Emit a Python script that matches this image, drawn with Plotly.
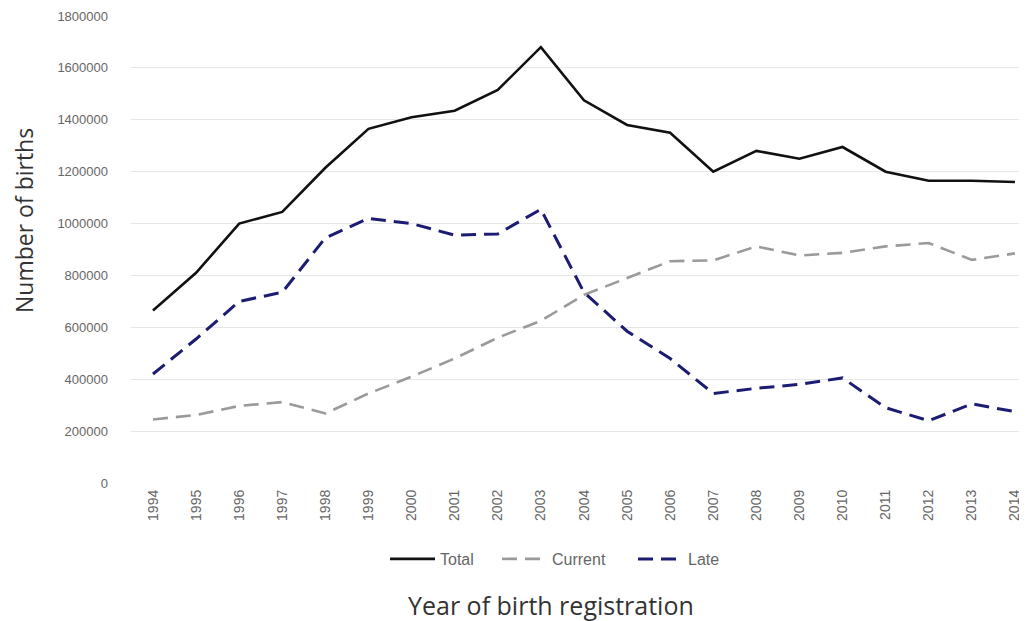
import plotly.graph_objects as go

years = list(range(1994, 2015))
total = [665000, 810000, 1000000, 1045000, 1215000, 1365000, 1410000, 1435000, 1515000, 1680000,
         1475000, 1380000, 1350000, 1200000, 1280000, 1250000, 1295000, 1200000, 1165000, 1165000, 1160000]
current = [245000, 262000, 297000, 312000, 268000, 345000, 410000, 480000, 560000, 625000,
           725000, 790000, 855000, 858000, 912000, 877000, 887000, 912000, 925000, 860000, 885000]
late = [420000, 555000, 700000, 735000, 945000, 1020000, 1000000, 955000, 960000, 1055000,
        735000, 585000, 480000, 345000, 365000, 380000, 405000, 290000, 240000, 305000, 275000]
y_ticks = [0, 200000, 400000, 600000, 800000, 1000000, 1200000, 1400000, 1600000, 1800000]

W, H = 1019, 613
L, R, T, B = 123, 0, 8, 138
PW, PH = W - L - R, H - T - B

def px(x):
    return (x - L) / PW

def py(y):
    return (H - B - y) / PH

sans = "Liberation Sans, Arial, sans-serif"
leg_font = dict(family=sans, size=16, color="#666666")

fig = go.Figure()
fig.add_trace(go.Scatter(x=years, y=total, name="Total", mode="lines", legend="legend",
                         line=dict(color="#111111", width=2.6)))
fig.add_trace(go.Scatter(x=years, y=current, name="Current", mode="lines", legend="legend2",
                         line=dict(color="#9a9a9a", width=2.6, dash="15px,8px")))
fig.add_trace(go.Scatter(x=years, y=late, name="Late", mode="lines", legend="legend3",
                         line=dict(color="#1c1c72", width=3, dash="15px,8px")))

leg_y = py(551)
def leg(xpix):
    return dict(orientation="h", x=px(xpix), xanchor="left", y=leg_y, yanchor="middle",
                font=leg_font, bgcolor="rgba(0,0,0,0)", borderwidth=0, itemwidth=45)

fig.update_layout(
    width=W, height=H,
    margin=dict(l=L, r=R, t=T, b=B),
    paper_bgcolor="white", plot_bgcolor="white",
    showlegend=True,
    legend=leg(377),
    legend2=leg(489),
    legend3=leg(625),
    xaxis=dict(range=[1993.49, 2014.28], tickmode="array", tickvals=years,
               ticktext=[str(y) for y in years], tickangle=-90,
               tickfont=dict(family=sans, size=14, color="#666666"),
               showgrid=False, zeroline=False, showline=False, ticks="",
               ticklabelstandoff=3),
    yaxis=dict(range=[0, 1800000], tickmode="array", tickvals=y_ticks,
               ticktext=[str(v) for v in y_ticks],
               tickfont=dict(family=sans, size=13, color="#666666"),
               showgrid=True, gridcolor="#e6e6e6", gridwidth=1.3, zeroline=False,
               showline=False, ticks="", ticklabelstandoff=22),
    annotations=[
        dict(text="Number of births", x=px(16), y=py(213), xref="paper", yref="paper",
             xanchor="center", yanchor="middle", showarrow=False, textangle=-90,
             font=dict(family="Open Sans", size=23, color="#333333")),
        dict(text="Year of birth registration", x=px(543), y=py(597), xref="paper", yref="paper",
             xanchor="center", yanchor="middle", showarrow=False,
             font=dict(family="Open Sans", size=25, color="#333333")),
    ],
)

fig.write_html("out.html")
